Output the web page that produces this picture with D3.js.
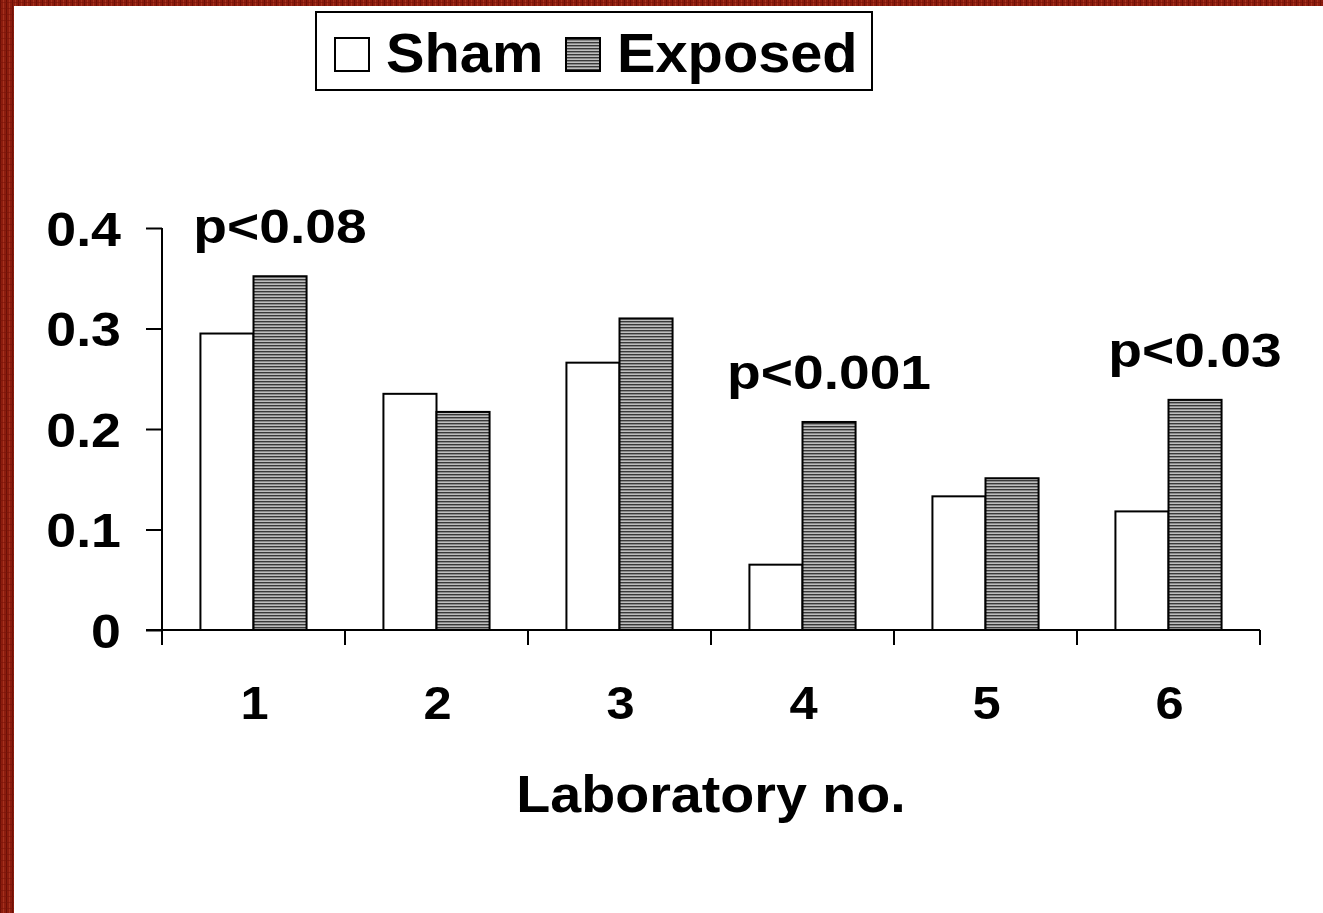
<!DOCTYPE html>
<html><head><meta charset="utf-8">
<script src="https://cdn.jsdelivr.net/npm/d3@7"></script>
<style>
html,body{margin:0;padding:0;background:#fff;}
svg{display:block;font-family:"Liberation Sans",Arial,sans-serif;font-weight:bold;}
</style></head>
<body>
<svg id="c" width="1323" height="913"></svg>
<script>
const categories = ["1","2","3","4","5","6"];
const series = ["Sham","Exposed"];
const shamValues = [0.295, 0.235, 0.266, 0.065, 0.133, 0.118];
const exposedValues = [0.352, 0.217, 0.310, 0.207, 0.151, 0.229];
const yTicks = [0, 0.1, 0.2, 0.3, 0.4];
const yTickLabels = ["0","0.1","0.2","0.3","0.4"];
const pLabels = [
  {cat:"1", text:"p<0.08"},
  {cat:"4", text:"p<0.001"},
  {cat:"6", text:"p<0.03"}
];
const xTitle = "Laboratory no.";

const svg = d3.select("#c");
const defs = svg.append("defs");

// red textured frame
const fp = defs.append("pattern").attr("id","frame").attr("patternUnits","userSpaceOnUse")
  .attr("width",6).attr("height",6);
fp.append("rect").attr("width",6).attr("height",6).attr("fill","#8c1c0e");
fp.append("rect").attr("x",0).attr("width",1).attr("height",6).attr("fill","#6e1006");
fp.append("rect").attr("x",3).attr("width",1).attr("height",6).attr("fill","#a4321e");
fp.append("rect").attr("y",2).attr("width",6).attr("height",1).attr("fill","#7a1408").attr("opacity",0.6);
svg.append("rect").attr("x",0).attr("y",0).attr("width",1323).attr("height",913).attr("fill","url(#frame)");
svg.append("rect").attr("x",14).attr("y",6).attr("width",1309).attr("height",907).attr("fill","#fff");

// hatch pattern
const hp = defs.append("pattern").attr("id","hatch").attr("patternUnits","userSpaceOnUse")
  .attr("width",4).attr("height",3);
hp.append("rect").attr("width",4).attr("height",3).attr("fill","#bdbdbd");
hp.append("rect").attr("y",0).attr("width",4).attr("height",1.4).attr("fill","#383838");

function placeText(sel, fx, fy, sx) {
  sel.attr("x",0).attr("y",0)
    .attr("transform",(d,i)=>`translate(${fx(d,i)},${fy(d,i)}) scale(${sx},1)`);
}

const margin = {left:162, right:1260, top:228, bottom:630};
const x0 = d3.scaleBand().domain(categories).range([margin.left, margin.right]).padding(0);
const step = x0.bandwidth();
const x1 = d3.scaleBand().domain(series).range([step*0.21, step*0.79]).padding(0);
const y = d3.scaleLinear().domain([0,0.4]).range([margin.bottom, margin.top]);

const data = categories.map((c,i)=>({cat:c, vals:[{s:"Sham",v:shamValues[i]},{s:"Exposed",v:exposedValues[i]}]}));

// bars
const g = svg.append("g");
g.selectAll("g.grp").data(data).join("g").attr("class","grp")
  .attr("transform", d=>`translate(${x0(d.cat)},0)`)
  .selectAll("rect").data(d=>d.vals).join("rect")
  .attr("x", d=>x1(d.s)).attr("width", x1.bandwidth())
  .attr("y", d=>y(d.v)).attr("height", d=>y(0)-y(d.v))
  .attr("fill", d=>d.s==="Sham" ? "#fff" : "url(#hatch)")
  .attr("stroke","#000").attr("stroke-width",2);

// y axis
const yAxis = d3.axisLeft(y).tickValues(yTicks).tickSize(16).tickFormat((d,i)=>yTickLabels[i]).tickPadding(25);
const ya = svg.append("g").attr("transform",`translate(${margin.left},0)`).call(yAxis);
ya.select(".domain").attr("stroke","#000").attr("stroke-width",2).attr("d",`M0,${margin.top}V${margin.bottom}`);
ya.selectAll(".tick line").attr("stroke","#000").attr("stroke-width",2);
ya.selectAll(".tick text").attr("font-size",48).attr("font-weight","bold").attr("fill","#000")
  .attr("font-family","Liberation Sans, Arial, sans-serif").attr("dy","0.36em")
  .each(function(){
    const t = d3.select(this);
    t.attr("x",0).attr("transform",`translate(-41,0) scale(1.12,1)`);
  });

// x axis
const xa = svg.append("g").attr("transform",`translate(0,${margin.bottom})`);
xa.append("path").attr("d",`M${margin.left-16},0H${margin.right}`).attr("stroke","#000").attr("stroke-width",2);
const bounds = categories.map(c=>x0(c)).concat([margin.right]);
xa.selectAll("line.tk").data(bounds).join("line").attr("class","tk")
  .attr("x1",d=>d).attr("x2",d=>d).attr("y1",0).attr("y2",15)
  .attr("stroke","#000").attr("stroke-width",2);
placeText(
  xa.selectAll("text.cl").data(categories).join("text").attr("class","cl")
    .attr("text-anchor","middle").attr("font-size",46).attr("fill","#000").text(d=>d),
  d=>x0(d)+step/2+1, ()=>89, 1.1);

// x title
placeText(
  svg.append("text").datum(xTitle).attr("text-anchor","middle").attr("font-size",52).attr("fill","#000").text(d=>d),
  ()=>(margin.left+margin.right)/2, ()=>812, 1.07);

// p labels
const expMap = new Map(categories.map((c,i)=>[c,exposedValues[i]]));
placeText(
  svg.selectAll("text.pl").data(pLabels).join("text").attr("class","pl")
    .attr("text-anchor","middle").attr("font-size",48).attr("fill","#000").text(d=>d.text),
  d=>x0(d.cat)+x1("Exposed")+x1.bandwidth()/2, d=>y(expMap.get(d.cat))-33, 1.15);

// legend
const lg = svg.append("g");
lg.append("rect").attr("x",316).attr("y",12).attr("width",556).attr("height",78)
  .attr("fill","#fff").attr("stroke","#000").attr("stroke-width",2);
const legItems = [{s:"Sham",x:335,tx:386},{s:"Exposed",x:566,tx:617}];
legItems.forEach(it=>{
  lg.append("rect").attr("x",it.x).attr("y",38).attr("width",34).attr("height",33)
    .attr("fill", it.s==="Sham" ? "#fff" : "url(#hatch)").attr("stroke","#000").attr("stroke-width",2);
  placeText(lg.append("text").datum(it.s).attr("font-size",55).attr("fill","#000").text(d=>d),
    ()=>it.tx, ()=>72, 1.05);
});
</script>
</body></html>
